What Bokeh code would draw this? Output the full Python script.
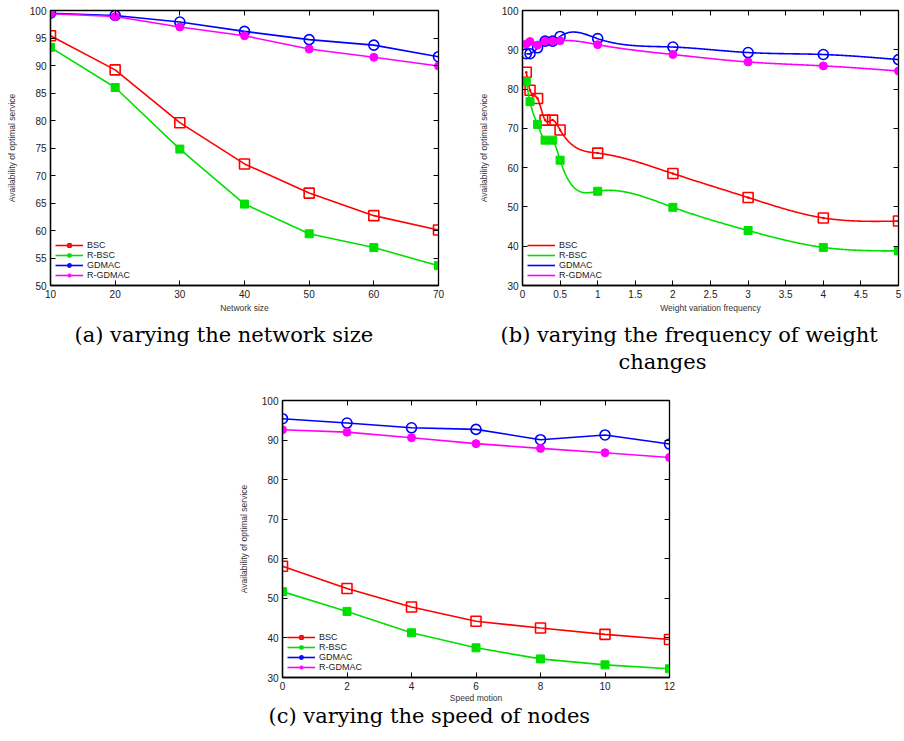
import numpy as np
from bokeh.plotting import figure
from bokeh.models import (Range1d, FixedTicker, LinearAxis, Legend, LegendItem,
                          Title, Spacer, CustomJSTickFormatter)
from bokeh.layouts import column, row
from bokeh.embed import file_html
from bokeh.resources import INLINE

# ---------------- data ----------------
series_names = ["BSC", "R-BSC", "GDMAC", "R-GDMAC"]

# (a) varying the network size
net_size = [10, 20, 30, 40, 50, 60, 70]
a_bsc = [95.4, 89.2, 79.6, 72.1, 66.8, 62.7, 60.1]
a_rbsc = [93.3, 86.0, 74.8, 64.8, 59.4, 56.9, 53.6]
a_gdmac = [99.5, 99.1, 97.9, 96.2, 94.7, 93.7, 91.6]
a_rgdmac = [99.4, 98.9, 97.0, 95.4, 93.0, 91.5, 89.9]
a_xticks = [10, 20, 30, 40, 50, 60, 70]
a_yticks = [50, 55, 60, 65, 70, 75, 80, 85, 90, 95, 100]

# (b) varying the frequency of weight changes
weight_freq = [0.05, 0.1, 0.2, 0.3, 0.4, 0.5, 1, 2, 3, 4, 5]
b_bsc = [84.3, 79.7, 77.6, 72.1, 72.1, 69.6, 63.7, 58.5, 52.4, 47.2, 46.4]
b_rbsc = [81.9, 76.8, 71.0, 67.0, 67.0, 61.9, 54.0, 49.9, 44.0, 39.7, 38.8]
b_gdmac = [89.0, 89.0, 90.5, 92.2, 92.2, 93.4, 92.85, 90.7, 89.3, 88.8, 87.5]
b_rgdmac = [91.5, 92.1, 91.2, 92.2, 92.2, 92.3, 91.3, 88.8, 86.9, 85.9, 84.6]
b_xticks = [0, 0.5, 1, 1.5, 2, 2.5, 3, 3.5, 4, 4.5, 5]
b_yticks = [30, 40, 50, 60, 70, 80, 90, 100]

# (c) varying the speed of nodes
speed = [0, 2, 4, 6, 8, 10, 12]
c_bsc = [58.1, 52.5, 47.8, 44.2, 42.5, 40.9, 39.6]
c_rbsc = [51.7, 46.7, 41.3, 37.5, 34.7, 33.2, 32.2]
c_gdmac = [95.4, 94.3, 93.1, 92.7, 90.1, 91.3, 89.0]
c_rgdmac = [92.6, 92.0, 90.6, 89.1, 87.9, 86.8, 85.6]
c_xticks = [0, 2, 4, 6, 8, 10, 12]
c_yticks = [30, 40, 50, 60, 70, 80, 90, 100]

COLORS = ["#ff0000", "#00e000", "#0000ff", "#ff00ff"]
SANS = "Liberation Sans"
SERIF = "DejaVu Serif"


def csplines(x, y, n=500):
    """Natural cubic spline through the data (like gnuplot 'smooth csplines')."""
    x = np.asarray(x, float)
    y = np.asarray(y, float)
    k = len(x)
    h = np.diff(x)
    A = np.zeros((k, k))
    r = np.zeros(k)
    A[0, 0] = A[-1, -1] = 1.0
    for i in range(1, k - 1):
        A[i, i - 1] = h[i - 1]
        A[i, i] = 2 * (h[i - 1] + h[i])
        A[i, i + 1] = h[i]
        r[i] = 6 * ((y[i + 1] - y[i]) / h[i] - (y[i] - y[i - 1]) / h[i - 1])
    M = np.linalg.solve(A, r)
    xs = np.linspace(x[0], x[-1], n)
    idx = np.clip(np.searchsorted(x, xs, side="right") - 1, 0, k - 2)
    x0, x1 = x[idx], x[idx + 1]
    hh = x1 - x0
    t0, t1 = x1 - xs, xs - x0
    ys = (M[idx] * t0 ** 3 / (6 * hh) + M[idx + 1] * t1 ** 3 / (6 * hh)
          + (y[idx] / hh - M[idx] * hh / 6) * t0
          + (y[idx + 1] / hh - M[idx + 1] * hh / 6) * t1)
    return xs, ys


def make_fig(width, height, xr, yr, xticks, yticks, xlabel,
             bl, br, bt, bb, jsfmt=False):
    p = figure(width=width, height=height, x_range=Range1d(*xr), y_range=Range1d(*yr),
               output_backend="svg", toolbar_location=None, title=None,
               min_border_left=bl, min_border_right=br,
               min_border_top=bt, min_border_bottom=bb)
    p.grid.visible = False
    p.outline_line_color = "black"
    p.outline_line_width = 1.3
    p.background_fill_color = "white"
    p.border_fill_color = "white"

    xa = p.below[0]
    ya = p.left[0]
    xa.ticker = FixedTicker(ticks=xticks)
    ya.ticker = FixedTicker(ticks=yticks)
    if jsfmt:
        xa.formatter = CustomJSTickFormatter(code="return String(tick)")
    xa.axis_label = xlabel
    ya.axis_label = "Availability of optimal service"
    for ax in (xa, ya):
        ax.major_tick_in = 5
        ax.major_tick_out = 0
        ax.minor_tick_line_color = None
        ax.axis_line_color = "black"
        ax.axis_line_width = 1.3
        ax.major_tick_line_color = "black"
        ax.major_label_text_font = SANS
        ax.major_label_text_font_size = "10px"
        ax.major_label_text_color = "#222222"
        ax.axis_label_text_font = SANS
        ax.axis_label_text_font_size = "8.5px"
        ax.axis_label_text_font_style = "normal"
        ax.axis_label_text_color = "#333333"
    xa.major_label_standoff = 4
    xa.axis_label_standoff = 2
    ya.major_label_standoff = 4
    ya.axis_label_standoff = 10

    # mirrored ticks on top and right
    for loc, tk in (("above", xticks), ("right", yticks)):
        m = LinearAxis(ticker=FixedTicker(ticks=tk))
        m.major_label_text_font_size = "0px"
        m.major_label_text_alpha = 0
        m.major_label_standoff = 0
        m.major_tick_in = 5
        m.major_tick_out = 0
        m.minor_tick_line_color = None
        m.axis_line_color = "black"
        m.major_tick_line_color = "black"
        p.add_layout(m, loc)
    return p


def add_caption(p, text, offset, standoff):
    t = Title(text=text, align="left", offset=offset, standoff=standoff,
              text_font=SERIF, text_font_size="21px", text_font_style="normal",
              text_color="black")
    p.add_layout(t, "below")


def add_legend(p, items):
    lg = Legend(items=items, location="bottom_left",
                background_fill_alpha=0, border_line_alpha=0,
                label_text_font=SANS, label_text_font_size="9px",
                label_text_color="#222222",
                glyph_width=28, glyph_height=8, label_height=8,
                spacing=-3, padding=2, margin=3, label_standoff=4)
    p.add_layout(lg)


def marker_plot(p, x, ys):
    kinds = [("square", False), ("square", True), ("circle", False), ("circle", True)]
    items = []
    for name, yv, col, (mk, filled) in zip(series_names, ys, COLORS, kinds):
        ln = p.line(x, yv, line_color=col, line_width=1.6)
        if filled:
            sc = p.scatter(x, yv, marker=mk, size=8, fill_color=col, line_color=col)
        else:
            sc = p.scatter(x, yv, marker=mk, size=10, fill_color=None,
                           line_color=col, line_width=1.6)
        items.append(LegendItem(label=name, renderers=[ln, sc]))
    add_legend(p, items)


# ---------------- panel (a) ----------------
pa = make_fig(460, 388, (10, 70), (50, 100), a_xticks, a_yticks, "Network size",
              50, 22, 10, 103)
marker_plot(pa, net_size, [a_bsc, a_rbsc, a_gdmac, a_rgdmac])
add_caption(pa, "(a) varying the network size", 24, 10)

# ---------------- panel (b) ----------------
pb = make_fig(442, 388, (0, 5), (30, 100), b_xticks, b_yticks,
              "Weight variation frequency", 62, 4, 10, 103, jsfmt=True)
b_items = []
b_kinds = [("square_dot", False), ("square", True), ("circle", False), ("circle", True)]
for name, yv, col, (mk, filled) in zip(series_names, [b_bsc, b_rbsc, b_gdmac, b_rgdmac],
                                       COLORS, b_kinds):
    xs, ys = csplines(weight_freq, yv)
    ln = pb.line(xs, ys, line_color=col, line_width=1.6)
    if filled:
        pb.scatter(weight_freq, yv, marker=mk, size=8, fill_color=col, line_color=col)
    else:
        pb.scatter(weight_freq, yv, marker=mk, size=10, fill_color=None,
                   line_color=col, line_width=1.6)
    b_items.append(LegendItem(label=name, renderers=[ln]))
add_legend(pb, b_items)
add_caption(pb, "(b) varying the frequency of weight", -22, 10)
add_caption(pb, "changes", 96, -8)

# ---------------- panel (c) ----------------
pc = make_fig(457, 349, (0, 12), (30, 100), c_xticks, c_yticks, "Speed motion",
              50, 20, 12, 60)
pc.below[0].axis_label_standoff = 0
marker_plot(pc, speed, [c_bsc, c_rbsc, c_gdmac, c_rgdmac])
add_caption(pc, "(c) varying the speed of nodes", -14, -8)

layout = column(row(pa, pb), row(Spacer(width=232, height=10), pc))

open("out.html", "w").write(file_html(layout, INLINE))
